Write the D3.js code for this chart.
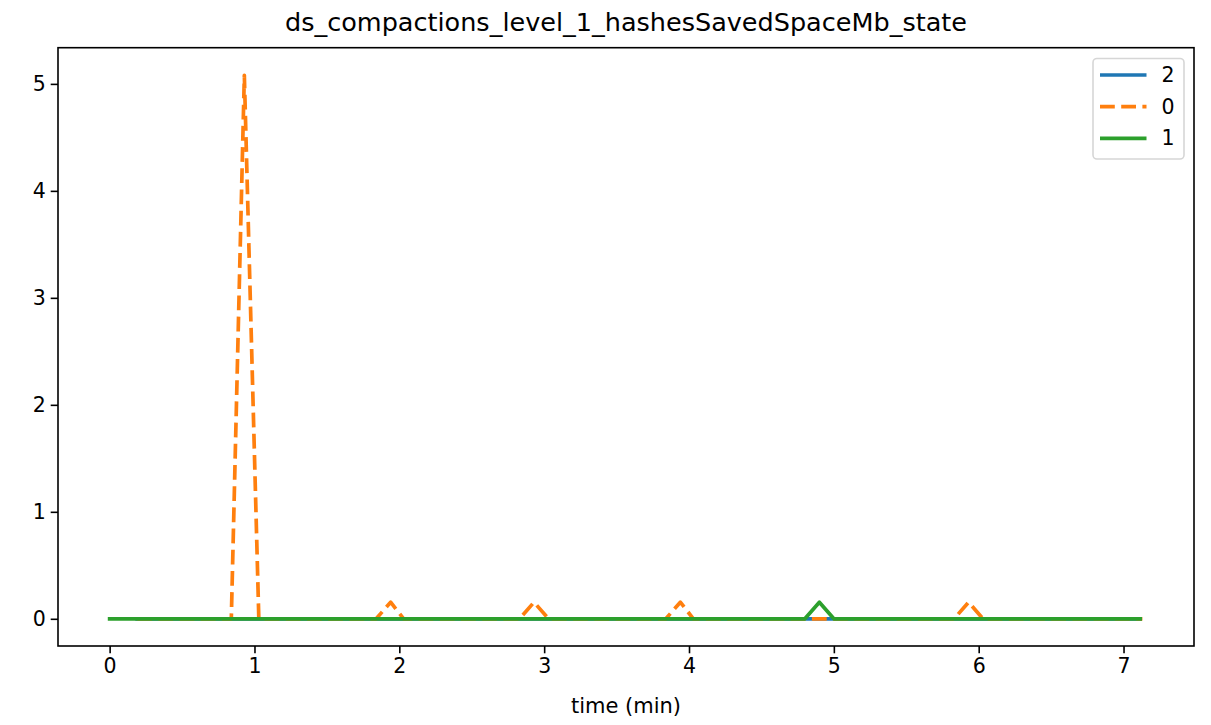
<!DOCTYPE html>
<html>
<head>
<meta charset="utf-8">
<script src="https://cdn.jsdelivr.net/npm/d3@7"></script>
<style>
  html, body { margin: 0; padding: 0; background: #fff; }
  svg { display: block; }
  text { font-family: "DejaVu Sans", sans-serif; fill: #000; }
</style>
</head>
<body>
<svg id="chart" width="1211" height="725"></svg>
<script>
const title = "ds_compactions_level_1_hashesSavedSpaceMb_state";
const xLabel = "time (min)";
const xTicks = [0, 1, 2, 3, 4, 5, 6, 7];
const yTicks = [0, 1, 2, 3, 4, 5];
const seriesNames = ["2", "0", "1"];
const seriesColors = ["#1f77b4", "#ff7f0e", "#2ca02c"];

const timeS2 = [0.19, 7.115];
const valS2  = [0, 0];

const timeS0 = [0.19, 0.84, 0.93, 1.03, 1.84, 1.94, 2.03, 2.83, 2.93, 3.03, 3.84, 3.94, 4.03, 5.83, 5.93, 6.03, 7.13];
const valS0  = [0, 0, 5.08, 0, 0, 0.155, 0, 0, 0.155, 0, 0, 0.155, 0, 0, 0.155, 0, 0];

const timeS1 = [0, 4.80, 4.90, 5.00, 7.115];
const valS1  = [0, 0, 0.155, 0, 0];

const series = [
  {name: seriesNames[0], color: seriesColors[0], dash: null, pts: timeS2.map((t, i) => [t, valS2[i]])},
  {name: seriesNames[1], color: seriesColors[1], dash: "14.8,6.4", pts: timeS0.map((t, i) => [t, valS0[i]])},
  {name: seriesNames[2], color: seriesColors[2], dash: null, pts: timeS1.map((t, i) => [t, valS1[i]])}
];

const L = 58, R = 1194, T = 47.7, B = 646;
const svg = d3.select("#chart");

const xmin = 0, xmax = 7.13, xm = (xmax - xmin) * 0.05;
const ymin = 0, ymax = 5.084, ym = (ymax - ymin) * 0.05;
const x = d3.scaleLinear().domain([xmin - xm, xmax + xm]).range([L, R]);
const y = d3.scaleLinear().domain([ymin - ym, ymax + ym]).range([B, T]);

svg.append("defs").append("clipPath").attr("id", "clip")
  .append("rect").attr("x", L).attr("y", T).attr("width", R - L).attr("height", B - T);

const line = d3.line().x(d => x(d[0])).y(d => y(d[1]));
const g = svg.append("g").attr("clip-path", "url(#clip)");
series.forEach(s => {
  g.append("path").datum(s.pts)
    .attr("d", line)
    .attr("fill", "none")
    .attr("stroke", s.color)
    .attr("stroke-width", 3.7)
    .attr("stroke-linejoin", "round")
    .attr("stroke-linecap", s.dash ? "butt" : "square")
    .attr("stroke-dasharray", s.dash);
});

const fs = "20.5px";
const xAxis = d3.axisBottom(x).tickValues(xTicks).tickSize(7.3).tickPadding(5).tickFormat(d3.format("d"));
const yAxis = d3.axisLeft(y).tickValues(yTicks).tickSize(7.3).tickPadding(5).tickFormat(d3.format("d"));
const gx = svg.append("g").attr("transform", `translate(0,${B})`).call(xAxis);
const gy = svg.append("g").attr("transform", `translate(${L},0)`).call(yAxis);
[gx, gy].forEach(a => {
  a.select(".domain").remove();
  a.selectAll(".tick line").attr("stroke", "#000").attr("stroke-width", 1.6);
  a.selectAll(".tick text").style("font-size", fs).style("font-family", "DejaVu Sans").attr("fill", "#000");
});

svg.append("rect").attr("x", L).attr("y", T).attr("width", R - L).attr("height", B - T)
  .attr("fill", "none").attr("stroke", "#000").attr("stroke-width", 1.6);

svg.append("text").attr("x", (L + R) / 2).attr("y", 31).attr("text-anchor", "middle")
  .style("font-size", "25.5px").text(title);
svg.append("text").attr("x", (L + R) / 2).attr("y", 713).attr("text-anchor", "middle")
  .style("font-size", "21px").text(xLabel);

const lg = svg.append("g");
lg.append("rect").attr("x", 1093).attr("y", 58.5).attr("width", 91).attr("height", 100.5)
  .attr("rx", 4).attr("fill", "#fff").attr("fill-opacity", 0.8)
  .attr("stroke", "#d6d6d6").attr("stroke-width", 1.6);
const rowY = [75, 106.7, 138.3];
series.forEach((s, i) => {
  lg.append("line").attr("x1", 1100).attr("x2", 1146.5).attr("y1", rowY[i]).attr("y2", rowY[i])
    .attr("stroke", s.color).attr("stroke-width", 3.7).attr("stroke-dasharray", s.dash);
  lg.append("text").attr("x", 1161.5).attr("y", rowY[i]).attr("dy", "0.35em")
    .style("font-size", fs).text(s.name);
});
</script>
</body>
</html>
